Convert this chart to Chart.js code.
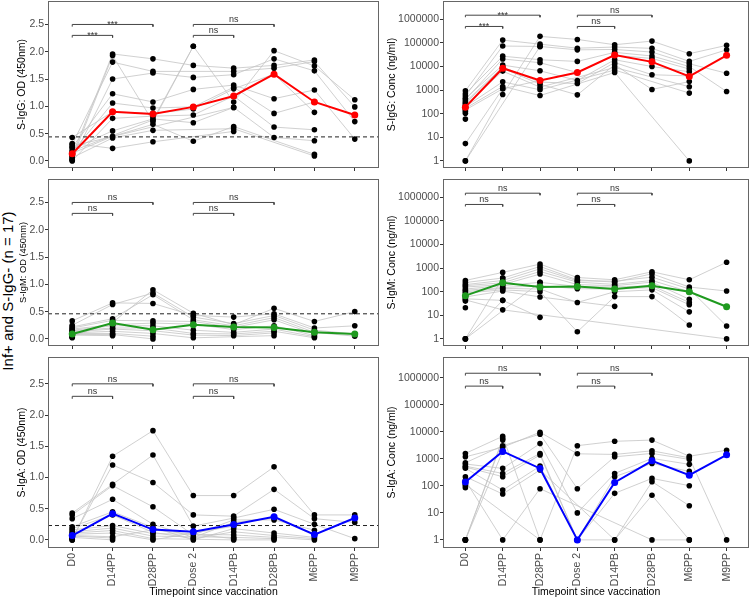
<!DOCTYPE html>
<html>
<head>
<meta charset="utf-8">
<script src="https://cdn.jsdelivr.net/npm/chart.js@4.4.1/dist/chart.umd.min.js"></script>
<style>
  body { margin:0; width:750px; height:598px; background:#fff; position:relative; overflow:hidden;
         font-family:"Liberation Sans", Arial, sans-serif; }
  canvas { position:absolute; }
  #biglab { position:absolute; left:7px; top:291px; transform:translate(-50%,-50%) rotate(-90deg);
            font-size:15px; white-space:nowrap; color:#000; }
</style>
</head>
<body>
<div id="biglab">Inf+ and S-IgG- (n = 17)</div>
<canvas id="p1"></canvas><canvas id="p2"></canvas>
<canvas id="p3"></canvas><canvas id="p4"></canvas>
<canvas id="p5"></canvas><canvas id="p6"></canvas>
<script>
// ---------------- data ----------------
const timepoints = ["D0","D14PP","D28PP","Dose 2","D14PB","D28PB","M6PP","M9PP"];
const odTicks = [0, 0.5, 1, 1.5, 2, 2.5];
const concTicks = [1, 10, 100, 1000, 10000, 100000, 1000000];
const sigPairs = [[0,1],[0,2],[3,4],[3,5]];
const sigLevelIdx = [0,1,0,1];
const sigIgG = ["***","***","ns","ns"];
const sigOther = ["ns","ns","ns","ns"];
const odSigLevels = [2.3, 2.5];
const concSigLevels = [500000, 1500000];
const odThresholds = [0.44, 0.46, 0.23];

// S-IgG OD (one row per participant, timepoints in order)
const iggOD = [
  [0.10, 1.96, 1.87, 1.75, 1.70, 1.75, 1.85, null],
  [0.04, 1.93, 0.72, 2.10, 1.08, 2.02, 1.74, 1.12],
  [0.30, 1.81, 1.64, null, 1.64, 1.70, 1.82, 0.99],
  [0.02, 1.50, 1.61, 1.53, 1.58, 1.87, 1.65, 0.72],
  [0.25, 1.23, 1.08, 1.31, 1.39, 1.14, 1.30, 0.40],
  [0.16, 1.06, 0.97, 0.99, 1.35, 0.87, 1.08, null],
  [0.43, 0.90, 0.87, 0.95, 1.32, 1.59, 0.89, null],
  [0.00, 0.78, 0.82, 0.84, 1.19, 0.62, 0.57, null],
  [0.22, 0.55, 0.77, 0.70, 0.98, 0.43, 0.37, null],
  [0.14, 0.45, 0.67, 0.36, 0.63, null, 0.12, null],
  [0.06, 0.42, 0.56, null, 0.59, null, 0.09, null],
  [0.32, 0.23, 0.35, null, 0.54, null, null, null],
  [0.18, null, 0.75, 2.10, null, null, null, null],
  [0.27, null, null, null, 0.98, null, null, null],
  [0.12, null, null, null, null, null, null, null],
  [0.01, null, null, null, null, null, null, null],
  [0.08, null, null, null, null, null, null, null]
];
const iggODMean = [0.13, 0.90, 0.86, 0.99, 1.19, 1.59, 1.08, 0.84];

// S-IgM OD
const igmOD = [
  [0.05, 0.30, 0.90, 0.47, 0.26, 0.56, 0.32, 0.50],
  [0.33, 0.66, 0.65, 0.43, 0.40, 0.46, 0.20, 0.24],
  [0.25, 0.63, 0.84, 0.40, 0.28, 0.43, 0.16, 0.09],
  [0.22, 0.37, 0.81, 0.35, 0.24, 0.39, 0.12, 0.05],
  [0.20, 0.34, 0.33, 0.32, 0.21, 0.35, 0.09, null],
  [0.18, 0.26, 0.29, 0.27, 0.17, 0.24, 0.06, null],
  [0.16, 0.24, 0.24, 0.16, 0.12, 0.18, 0.04, null],
  [0.15, 0.20, 0.20, 0.10, 0.09, 0.14, 0.02, null],
  [0.13, 0.18, 0.15, 0.07, 0.06, 0.11, null, null],
  [0.11, 0.14, 0.10, 0.02, null, 0.06, null, null],
  [0.10, 0.10, 0.05, null, null, null, null, null],
  [0.08, 0.08, 0.00, null, null, null, null, null],
  [0.07, 0.06, null, null, null, null, null, null],
  [0.06, null, null, null, null, null, null, null],
  [0.04, null, null, null, null, null, null, null],
  [0.03, null, null, null, null, null, null, null],
  [0.02, null, null, null, null, null, null, null]
];
const igmODMean = [0.09, 0.29, 0.17, 0.26, 0.22, 0.21, 0.12, 0.09];

// S-IgA OD
const igaOD = [
  [0.00, 1.34, 1.75, 0.71, 0.71, 1.17, 0.40, 0.40],
  [0.02, 1.20, 0.92, 0.40, 0.38, 0.81, 0.34, 0.28],
  [0.43, 0.89, 1.36, 0.22, 0.35, 0.49, 0.25, 0.02],
  [0.40, 0.87, 0.53, 0.08, 0.32, 0.32, 0.155, null],
  [0.34, 0.65, 0.25, 0.04, 0.28, 0.35, 0.10, null],
  [0.21, 0.45, 0.20, 0.00, 0.18, 0.11, 0.04, null],
  [0.18, 0.40, 0.12, 0.02, 0.13, 0.07, 0.02, null],
  [0.16, 0.23, 0.10, null, 0.08, 0.04, 0.00, null],
  [0.13, 0.19, 0.06, null, 0.04, 0.02, null, null],
  [0.11, 0.15, 0.02, null, 0.00, 0.00, null, null],
  [0.09, 0.11, 0.00, null, 0.22, null, null, null],
  [0.07, 0.05, 0.16, null, 0.02, null, null, null],
  [0.06, 0.03, null, null, null, null, null, null],
  [0.04, 0.00, null, null, null, null, null, null],
  [0.03, null, null, null, null, null, null, null],
  [0.01, null, null, null, null, null, null, null],
  [0.00, null, null, null, null, null, null, null]
];
const igaODMean = [0.07, 0.42, 0.165, 0.13, 0.245, 0.37, 0.085, 0.35];

// S-IgG Conc (ng/ml)
const iggConc = [
  [1, 650, 190000, 141000, 84000, 120000, 35000, 79000],
  [930, 132000, 89000, 60000, 67000, 59000, 16500, 51000],
  [560, 74000, 71000, 51000, 53000, 41000, 13100, 5200],
  [700, 27500, 19400, 16500, 40000, 28000, 10000, 870],
  [390, 21000, 14500, 5600, 30000, 22000, 7800, null],
  [450, 11500, 6600, 2560, 19400, 10000, 6000, null],
  [320, 9500, 2200, 1900, 14800, 4500, 4000, null],
  [280, 8500, 1780, 630, 12000, 1070, 2300, null],
  [240, 6400, 1340, null, 9100, null, 1400, null],
  [200, 2250, 1030, null, 7100, null, 750, null],
  [170, 1430, 590, null, 5600, null, 1, null],
  [145, 1140, 2570, null, null, null, null, null],
  [125, null, null, null, null, null, null, null],
  [105, null, null, null, null, null, null, null],
  [59, null, null, null, null, null, null, null],
  [5.4, 1140, null, null, null, null, null, null],
  [1, null, 71000, null, null, null, null, null]
];
const iggConcMean = [190, 8500, 2570, 5600, 30700, 15800, 3800, 30000];

// S-IgM Conc (ng/ml)
const igmConc = [
  [300, 660, 1480, 400, 320, 700, 320, 1780],
  [245, 380, 1170, 320, 255, 575, 158, 107],
  [200, 300, 930, 290, 280, 415, 130, 3.5],
  [180, 240, 720, 255, 205, 300, 100, null],
  [158, 200, 560, 200, 180, 255, 48, null],
  [130, 180, 250, 167, 158, 180, 35, null],
  [115, 150, 180, 134, 130, 150, 28, null],
  [100, 138, 130, 35, 100, 120, 14, null],
  [88, 120, 100, 2, 62, 62, 3.9, null],
  [60, 107, 60, null, 24, null, null, null],
  [50, 43, 8.2, null, null, null, null, null],
  [45, 17, null, null, null, null, null, 1],
  [40, null, null, null, null, null, null, null],
  [21, null, null, null, null, null, null, null],
  [1, 380, null, null, null, null, null, null],
  [1, null, 250, null, null, null, null, null],
  [1, 43, null, null, null, null, null, null]
];
const igmConcMean = [68, 240, 158, 167, 130, 180, 100, 23];

// S-IgA Conc (ng/ml)
const igaConc = [
  [1600, 6900, 1, 3100, 4500, 5000, 1260, 2100],
  [1200, 2700, 9800, 1550, 1470, 2000, 1100, 1],
  [720, 3100, 8300, 79, 1200, 1600, 960, null],
  [650, 445, 3700, 10, 290, 1050, 630, null],
  [540, 290, 1600, 1, 220, 680, 345, null],
  [500, 220, 1400, 1, 53, 190, 102, null],
  [450, 70, 540, 1, 1, 144, 18.5, null],
  [220, 50, 390, null, 1, 45, 1, null],
  [160, 1, 79, null, null, 1, 1, null],
  [114, null, 1, null, null, null, null, null],
  [100, null, null, null, null, null, null, null],
  [86, null, null, null, null, null, null, null],
  [1, 5700, null, null, null, null, null, null],
  [1, 5000, null, null, null, null, null, null],
  [1, 1900, null, null, null, null, null, null],
  [1, null, null, null, null, null, null, null],
  [1, null, null, null, null, null, null, null]
];
const igaConcMean = [140, 1900, 445, 1, 135, 850, 250, 1420];

// ---------------- drawing ----------------
const FONT = '"Liberation Sans", Arial, sans-serif';
Chart.defaults.font.family = FONT;
Chart.defaults.color = '#4d4d4d';

function buildPanel(cfg) {
  const cv = document.getElementById(cfg.id);
  cv.width = cfg.w; cv.height = cfg.h;
  Object.assign(cv.style, { left: cfg.x + 'px', top: cfg.y + 'px', width: cfg.w + 'px', height: cfg.h + 'px' });

  const ds = [];
  cfg.subjects.forEach(row => {
    ds.push({
      type: 'line',
      data: row.map((v, i) => ({ x: i, y: v })).filter(p => p.y !== null),
      borderColor: '#c4c4c4', borderWidth: 0.8, pointRadius: 0, tension: 0, fill: false, order: 6
    });
  });
  if (cfg.threshold !== null) {
    ds.push({
      type: 'line', data: [{ x: -0.6, y: cfg.threshold }, { x: 7.6, y: cfg.threshold }],
      borderColor: '#222', borderWidth: 1, borderDash: [4, 3], pointRadius: 0, order: 4
    });
  }
  sigPairs.forEach((p, k) => {
    const lv = cfg.sigLevels[sigLevelIdx[k]];
    const lo = cfg.log ? lv * 0.82 : lv - 0.04;
    ds.push({
      type: 'line',
      data: [{ x: p[0], y: lo }, { x: p[0], y: lv }, { x: p[1], y: lv }, { x: p[1], y: lo }],
      borderColor: '#444', borderWidth: 1, pointRadius: 0, order: 5
    });
  });
  const pts = [];
  cfg.subjects.forEach(row => row.forEach((v, i) => { if (v !== null) pts.push({ x: i, y: v }); }));
  ds.push({ type: 'scatter', data: pts, backgroundColor: '#000', borderWidth: 0, pointRadius: 2.8, order: 2 });
  ds.push({
    type: 'line', data: cfg.mean.map((v, i) => ({ x: i, y: v })),
    borderColor: cfg.color, backgroundColor: cfg.color, borderWidth: 2,
    pointRadius: 3.5, pointBorderWidth: 0, tension: 0, order: 0
  });

  const yScale = {
    type: cfg.log ? 'logarithmic' : 'linear',
    min: cfg.log ? 0.5 : -0.13,
    max: cfg.log ? 6000000 : 2.93,
    afterBuildTicks: s => { s.ticks = (cfg.log ? concTicks : odTicks).map(v => ({ value: v })); },
    afterFit: s => { s.width = cfg.yW; s.paddingTop = 0; s.paddingBottom = 0; },
    ticks: {
      font: { size: 10.5 }, color: '#4d4d4d', padding: 1,
      callback: v => cfg.log ? String(v) : Number(v).toFixed(1)
    },
    grid: { drawOnChartArea: false, drawTicks: true, tickLength: 3, color: '#333' },
    border: { display: false },
    title: {
      display: true, text: cfg.yTitle, color: '#000',
      font: { size: cfg.yTitleSize }, padding: { top: cfg.titlePad, bottom: 0 }
    }
  };
  const xScale = {
    type: 'linear', min: -0.6, max: 7.6,
    afterBuildTicks: s => { s.ticks = timepoints.map((_, i) => ({ value: i })); },
    afterFit: s => { s.height = cfg.xH; s.paddingLeft = 0; s.paddingRight = 0; },
    ticks: {
      display: cfg.xLabels, autoSkip: false, maxRotation: 90, minRotation: 90,
      font: { size: 10.5 }, color: '#4d4d4d', padding: 2,
      callback: v => timepoints[v]
    },
    grid: { drawOnChartArea: false, drawTicks: true, tickLength: 3, color: '#333' },
    border: { display: false },
    title: {
      display: cfg.xLabels, text: 'Timepoint since vaccination', color: '#000',
      font: { size: 10.5 }, padding: { top: 0, bottom: 0 }
    }
  };

  const overlay = {
    id: 'overlay' + cfg.id,
    afterDatasetsDraw(chart) {
      const { ctx, chartArea: a, scales } = chart;
      ctx.save();
      ctx.font = '9px ' + FONT;
      ctx.fillStyle = '#333';
      ctx.textAlign = 'center';
      ctx.textBaseline = 'alphabetic';
      sigPairs.forEach((p, k) => {
        const xm = scales.x.getPixelForValue((p[0] + p[1]) / 2);
        const y = scales.y.getPixelForValue(cfg.sigLevels[sigLevelIdx[k]]);
        const lab = cfg.sigText[k];
        ctx.fillText(lab, xm, lab.indexOf('*') >= 0 ? y + 3 : y - 2);
      });
      ctx.strokeStyle = '#666';
      ctx.lineWidth = 1;
      ctx.strokeRect(a.left + 0.5, a.top + 0.5, a.right - a.left - 1, a.bottom - a.top - 1);
      ctx.restore();
    }
  };

  new Chart(cv, {
    type: 'line',
    data: { datasets: ds },
    options: {
      responsive: false, animation: false, devicePixelRatio: 1,
      layout: { autoPadding: false, padding: { top: 1, right: 1, left: 0, bottom: 0 } },
      plugins: { legend: { display: false }, tooltip: { enabled: false } },
      scales: { x: xScale, y: yScale }
    },
    plugins: [overlay]
  });
}

const leftCol = { x: 0, w: 380, yW: 48, titlePad: 16 };
const rightCol = { x: 380, w: 370, yW: 63, titlePad: 6 };
const rows = [
  { y: 0, h: 176, xH: 8, xLabels: false },
  { y: 178, h: 176, xH: 8, xLabels: false },
  { y: 356, h: 242, xH: 50, xLabels: true }
];

buildPanel(Object.assign({ id: 'p1', subjects: iggOD, mean: iggODMean, color: '#ff0000', log: false,
  threshold: odThresholds[0], sigLevels: odSigLevels, sigText: sigIgG, yTitle: 'S-IgG: OD (450nm)', yTitleSize: 10.5 }, leftCol, rows[0]));
buildPanel(Object.assign({ id: 'p2', subjects: iggConc, mean: iggConcMean, color: '#ff0000', log: true,
  threshold: null, sigLevels: concSigLevels, sigText: sigIgG, yTitle: 'S-IgG: Conc (ng/ml)', yTitleSize: 10.5 }, rightCol, rows[0]));
buildPanel(Object.assign({ id: 'p3', subjects: igmOD, mean: igmODMean, color: '#1f9a1f', log: false,
  threshold: odThresholds[1], sigLevels: odSigLevels, sigText: sigOther, yTitle: 'S-IgM: OD (450nm)', yTitleSize: 9.3 }, leftCol, rows[1], { titlePad: 18 }));
buildPanel(Object.assign({ id: 'p4', subjects: igmConc, mean: igmConcMean, color: '#1f9a1f', log: true,
  threshold: null, sigLevels: concSigLevels, sigText: sigOther, yTitle: 'S-IgM: Conc (ng/ml)', yTitleSize: 10.5 }, rightCol, rows[1]));
buildPanel(Object.assign({ id: 'p5', subjects: igaOD, mean: igaODMean, color: '#0000ff', log: false,
  threshold: odThresholds[2], sigLevels: odSigLevels, sigText: sigOther, yTitle: 'S-IgA: OD (450nm)', yTitleSize: 10.5 }, leftCol, rows[2]));
buildPanel(Object.assign({ id: 'p6', subjects: igaConc, mean: igaConcMean, color: '#0000ff', log: true,
  threshold: null, sigLevels: concSigLevels, sigText: sigOther, yTitle: 'S-IgA: Conc (ng/ml)', yTitleSize: 10.5 }, rightCol, rows[2]));
</script>
</body>
</html>
